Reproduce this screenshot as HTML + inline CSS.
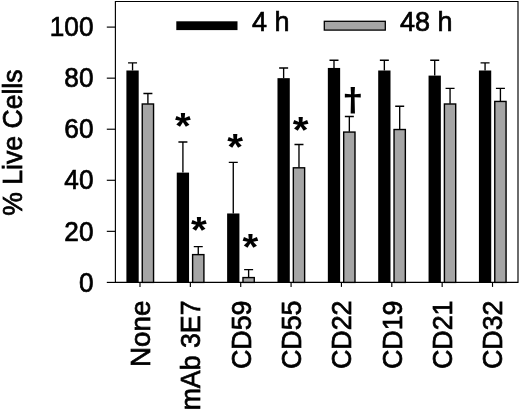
<!DOCTYPE html>
<html><head><meta charset="utf-8"><title>% Live Cells</title>
<style>html,body{margin:0;padding:0;background:#fff;}body{width:520px;height:410px;overflow:hidden;}svg{display:block;}text{font-family:"Liberation Sans",Arial,Helvetica,sans-serif;fill:#000;stroke:#000;stroke-width:0.7px;}.sym{stroke:none;font-weight:bold;}.dag{font-family:"Noto Sans CJK SC","Liberation Sans",sans-serif;stroke:none;font-weight:bold;}</style>
</head><body>
<svg width="520" height="410" viewBox="0 0 520 410">
<rect x="0" y="0" width="520" height="410" fill="#fff"/>
<g stroke="#000" stroke-width="1.15" fill="none">
<path d="M115.4 1.5H518.0V282.4H115.4Z"/>
<path d="M106.8 282.40H115.4"/>
<path d="M106.8 231.34H115.4"/>
<path d="M106.8 180.28H115.4"/>
<path d="M106.8 129.22H115.4"/>
<path d="M106.8 78.16H115.4"/>
<path d="M106.8 27.10H115.4"/>
<path d="M140.00 282.4V286.9"/>
<path d="M190.36 282.4V286.9"/>
<path d="M240.72 282.4V286.9"/>
<path d="M291.08 282.4V286.9"/>
<path d="M341.44 282.4V286.9"/>
<path d="M391.80 282.4V286.9"/>
<path d="M442.16 282.4V286.9"/>
<path d="M492.52 282.4V286.9"/>
</g>
<path d="M132.55 70.50V62.84M128.05 62.84H137.05" stroke="#000" stroke-width="1.35" fill="none"/>
<rect x="126.40" y="70.50" width="12.3" height="212.40" fill="#000"/>
<path d="M147.90 103.69V93.48M143.40 93.48H152.40" stroke="#000" stroke-width="1.35" fill="none"/>
<rect x="142.25" y="103.99" width="11.299999999999999" height="178.41" fill="#a5a5a5" stroke="#000" stroke-width="1.4"/>
<path d="M182.91 172.62V141.98M178.41 141.98H187.41" stroke="#000" stroke-width="1.35" fill="none"/>
<rect x="176.76" y="172.62" width="12.3" height="110.28" fill="#000"/>
<path d="M198.26 254.32V246.66M193.76 246.66H202.76" stroke="#000" stroke-width="1.35" fill="none"/>
<rect x="192.61" y="254.62" width="11.299999999999999" height="27.78" fill="#a5a5a5" stroke="#000" stroke-width="1.4"/>
<path d="M233.27 213.47V162.41M228.77 162.41H237.77" stroke="#000" stroke-width="1.35" fill="none"/>
<rect x="227.12" y="213.47" width="12.3" height="69.43" fill="#000"/>
<path d="M248.62 277.29V269.63M244.12 269.63H253.12" stroke="#000" stroke-width="1.35" fill="none"/>
<rect x="242.97" y="277.59" width="11.299999999999999" height="4.81" fill="#a5a5a5" stroke="#000" stroke-width="1.4"/>
<path d="M283.63 78.16V67.95M279.13 67.95H288.13" stroke="#000" stroke-width="1.35" fill="none"/>
<rect x="277.48" y="78.16" width="12.3" height="204.74" fill="#000"/>
<path d="M298.98 167.51V144.54M294.48 144.54H303.48" stroke="#000" stroke-width="1.35" fill="none"/>
<rect x="293.33" y="167.81" width="11.299999999999999" height="114.58" fill="#a5a5a5" stroke="#000" stroke-width="1.4"/>
<path d="M333.99 67.95V60.29M329.49 60.29H338.49" stroke="#000" stroke-width="1.35" fill="none"/>
<rect x="327.84" y="67.95" width="12.3" height="214.95" fill="#000"/>
<path d="M349.34 131.77V116.45M344.84 116.45H353.84" stroke="#000" stroke-width="1.35" fill="none"/>
<rect x="343.69" y="132.07" width="11.299999999999999" height="150.33" fill="#a5a5a5" stroke="#000" stroke-width="1.4"/>
<path d="M384.35 70.50V60.29M379.85 60.29H388.85" stroke="#000" stroke-width="1.35" fill="none"/>
<rect x="378.20" y="70.50" width="12.3" height="212.40" fill="#000"/>
<path d="M399.70 129.22V106.24M395.20 106.24H404.20" stroke="#000" stroke-width="1.35" fill="none"/>
<rect x="394.05" y="129.52" width="11.299999999999999" height="152.88" fill="#a5a5a5" stroke="#000" stroke-width="1.4"/>
<path d="M434.71 75.61V60.29M430.21 60.29H439.21" stroke="#000" stroke-width="1.35" fill="none"/>
<rect x="428.56" y="75.61" width="12.3" height="207.29" fill="#000"/>
<path d="M450.06 103.69V88.37M445.56 88.37H454.56" stroke="#000" stroke-width="1.35" fill="none"/>
<rect x="444.41" y="103.99" width="11.299999999999999" height="178.41" fill="#a5a5a5" stroke="#000" stroke-width="1.4"/>
<path d="M485.07 70.50V62.84M480.57 62.84H489.57" stroke="#000" stroke-width="1.35" fill="none"/>
<rect x="478.92" y="70.50" width="12.3" height="212.40" fill="#000"/>
<path d="M500.42 101.14V88.37M495.92 88.37H504.92" stroke="#000" stroke-width="1.35" fill="none"/>
<rect x="494.77" y="101.44" width="11.299999999999999" height="180.96" fill="#a5a5a5" stroke="#000" stroke-width="1.4"/>
<rect x="176.3" y="21.3" width="61.2" height="8.8" fill="#000"/>
<rect x="324.3" y="21.3" width="61" height="8.8" fill="#a5a5a5" stroke="#000" stroke-width="1.3"/>
<text transform="translate(252.00 31.40) scale(0.985 1.035)" font-size="27.4" text-anchor="start">4 h</text>
<text transform="translate(400.00 31.40) scale(0.985 1.035)" font-size="27.4" text-anchor="start">48 h</text>
<text transform="translate(93.50 291.60) scale(0.97 1.035)" font-size="27.0" text-anchor="end">0</text>
<text transform="translate(93.50 240.54) scale(0.97 1.035)" font-size="27.0" text-anchor="end">20</text>
<text transform="translate(93.50 189.48) scale(0.97 1.035)" font-size="27.0" text-anchor="end">40</text>
<text transform="translate(93.50 138.42) scale(0.97 1.035)" font-size="27.0" text-anchor="end">60</text>
<text transform="translate(93.50 87.36) scale(0.97 1.035)" font-size="27.0" text-anchor="end">80</text>
<text transform="translate(93.50 36.30) scale(0.97 1.035)" font-size="27.0" text-anchor="end">100</text>
<text transform="translate(22.30 215.70) rotate(-90) scale(1.0 1.035)" font-size="26.6" text-anchor="start">% Live Cells</text>
<text transform="translate(149.80 300.50) rotate(-90) scale(1.015 1.04)" font-size="27.4" text-anchor="end">None</text>
<text transform="translate(200.16 300.50) rotate(-90) scale(0.975 1.04)" font-size="27.4" text-anchor="end">mAb <tspan dx="0">3E7</tspan></text>
<text transform="translate(250.52 300.50) rotate(-90) scale(0.98 1.04)" font-size="27.4" text-anchor="end">CD59</text>
<text transform="translate(300.88 300.50) rotate(-90) scale(0.98 1.04)" font-size="27.4" text-anchor="end">CD55</text>
<text transform="translate(351.24 300.50) rotate(-90) scale(0.98 1.04)" font-size="27.4" text-anchor="end">CD22</text>
<text transform="translate(401.60 300.50) rotate(-90) scale(0.98 1.04)" font-size="27.4" text-anchor="end">CD19</text>
<text transform="translate(451.96 300.50) rotate(-90) scale(0.98 1.04)" font-size="27.4" text-anchor="end">CD21</text>
<text transform="translate(502.32 300.50) rotate(-90) scale(0.98 1.04)" font-size="27.4" text-anchor="end">CD32</text>
<text class="sym" transform="translate(182.9 138.50) scale(1.04 0.93)" font-size="39" text-anchor="middle">*</text>
<text class="sym" transform="translate(235.2 159.60) scale(1.04 0.93)" font-size="39" text-anchor="middle">*</text>
<text class="sym" transform="translate(198.8 242.50) scale(1.04 0.93)" font-size="39" text-anchor="middle">*</text>
<text class="sym" transform="translate(250.3 259.70) scale(1.04 0.93)" font-size="39" text-anchor="middle">*</text>
<text class="sym" transform="translate(300.6 142.80) scale(1.04 0.93)" font-size="39" text-anchor="middle">*</text>
<text class="dag" transform="translate(352.9 110.7) scale(1.05 1)" font-size="30.6" text-anchor="middle">†</text>
</svg>
</body></html>
